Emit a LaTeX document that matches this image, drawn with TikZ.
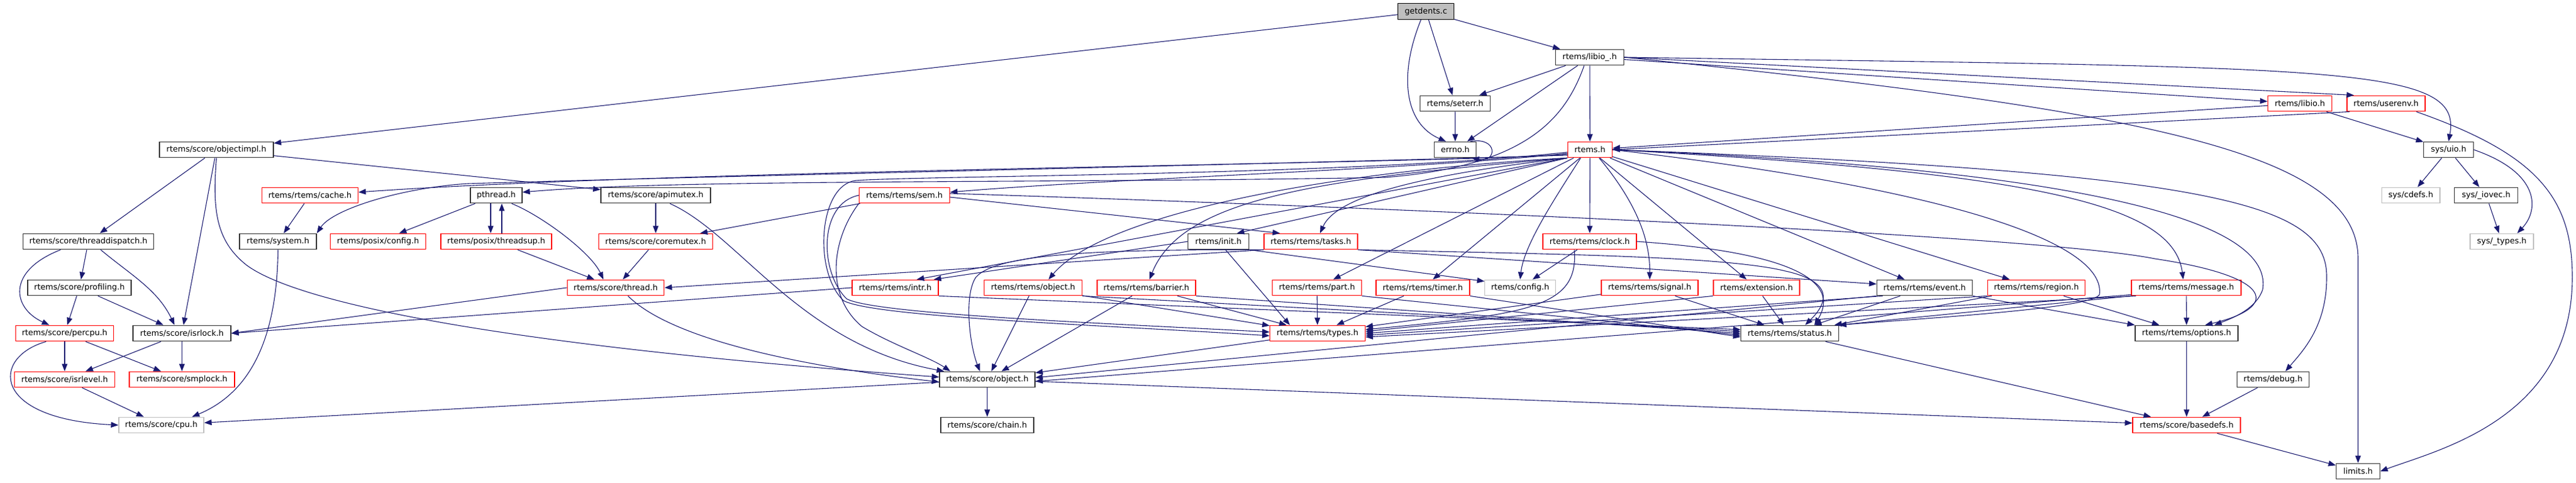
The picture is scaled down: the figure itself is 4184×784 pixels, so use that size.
\documentclass[tikz,border=0pt]{standalone}
\usepackage{fontspec}
\setmainfont{DejaVu Sans}
\usetikzlibrary{arrows.meta}
\definecolor{edgec}{HTML}{191970}
\definecolor{nodegray}{HTML}{BFBFBF}
\definecolor{nodered}{HTML}{FF0000}
\begin{document}
\begin{tikzpicture}[x=1pt,y=-1pt,
  nbox/.style={draw, line width=1.3pt, minimum height=25.5pt, inner sep=0pt, font=\fontsize{13}{15}\selectfont, text=black},
  nb/.style={nbox, draw=black!80},
  nr/.style={nbox, draw=nodered},
  ng/.style={nbox, draw=nodegray},
  conn/.style={draw=edgec, line width=1.1pt, -{Triangle[length=12pt,width=9pt]}}]
\useasboundingbox (0,0) rectangle (4184,784);
\fill[white] (0,0) rectangle (4184,784);

% ---------- nodes ----------
\node[nbox, draw=black, fill=nodegray, minimum width=91pt] (getdents) at (2316,18.5) {getdents.c};
\node[nb, minimum width=111pt] (libiou) at (2582,93) {rtems/libio\_.h};
\node[nb, minimum width=113.5pt] (seterr) at (2363.5,168) {rtems/seterr.h};
\node[nb, minimum width=68pt] (errno) at (2363.6,243) {errno.h};
\node[nr, minimum width=72pt] (rtems) at (2582.4,243) {rtems.h};
\node[nr, minimum width=104pt] (libio) at (3735.5,168) {rtems/libio.h};
\node[nr, minimum width=127pt] (userenv) at (3875.5,168) {rtems/userenv.h};
\node[nb, minimum width=80.5pt] (uio) at (3977,243) {sys/uio.h};
\node[ng, minimum width=94.6pt] (cdefs) at (3915.6,317) {sys/cdefs.h};
\node[nb, minimum width=103pt] (iovec) at (4038,317) {sys/\_iovec.h};
\node[ng, minimum width=103pt] (systypes) at (4063.5,392) {sys/\_types.h};

\node[nb, minimum width=185pt] (objectimpl) at (351.5,243) {rtems/score/objectimpl.h};
\node[nr, minimum width=156pt] (cache) at (503.5,317) {rtems/rtems/cache.h};
\node[nb, minimum width=84pt] (pthread) at (806,317) {pthread.h};
\node[nb, minimum width=178pt] (apimutex) at (1065,317) {rtems/score/apimutex.h};
\node[nr, minimum width=147pt] (sem) at (1469,317) {rtems/rtems/sem.h};

\node[nb, minimum width=212pt] (threaddispatch) at (143.5,392) {rtems/score/threaddispatch.h};
\node[nb, minimum width=125pt] (system) at (451.5,392) {rtems/system.h};
\node[nr, minimum width=155pt] (posixconfig) at (614,392) {rtems/posix/config.h};
\node[nr, minimum width=180pt] (threadsup) at (806,392) {rtems/posix/threadsup.h};
\node[nr, minimum width=185pt] (coremutex) at (1065,392) {rtems/score/coremutex.h};
\node[nb, minimum width=98.5pt] (init) at (1979,392) {rtems/init.h};
\node[nr, minimum width=152pt] (tasks) at (2129,392) {rtems/rtems/tasks.h};
\node[nr, minimum width=152pt] (clock) at (2582,392) {rtems/rtems/clock.h};

\node[nb, minimum width=168pt] (profiling) at (129,467) {rtems/score/profiling.h};
\node[nr, minimum width=157.5pt] (thread) at (1000,467) {rtems/score/thread.h};
\node[nr, minimum width=140pt] (intr) at (1454,467) {rtems/rtems/intr.h};
\node[nr, minimum width=158.5pt] (rtemsobject) at (1678,467) {rtems/rtems/object.h};
\node[nr, minimum width=160pt] (barrier) at (1862,467) {rtems/rtems/barrier.h};
\node[nr, minimum width=145pt] (part) at (2139,467) {rtems/rtems/part.h};
\node[nr, minimum width=152pt] (timer) at (2311,467) {rtems/rtems/timer.h};
\node[ng, minimum width=114.5pt] (config) at (2469,467) {rtems/config.h};
\node[nr, minimum width=157pt] (signal) at (2679.5,467) {rtems/rtems/signal.h};
\node[nr, minimum width=140pt] (extension) at (2853,467) {rtems/extension.h};
\node[nb, minimum width=155pt] (event) at (3126,467) {rtems/rtems/event.h};
\node[nr, minimum width=158pt] (region) at (3307.5,467) {rtems/rtems/region.h};
\node[nr, minimum width=178pt] (message) at (3551,467) {rtems/rtems/message.h};

\node[nr, minimum width=158.5pt] (percpu) at (105,541) {rtems/score/percpu.h};
\node[nb, minimum width=159pt] (isrlock) at (295.5,541) {rtems/score/isrlock.h};
\node[nr, minimum width=154.5pt] (types) at (2140,541) {rtems/rtems/types.h};
\node[nb, minimum width=158.5pt] (status) at (2907,541) {rtems/rtems/status.h};
\node[nb, minimum width=167pt] (options) at (3551.5,541) {rtems/rtems/options.h};

\node[nr, minimum width=163pt] (isrlevel) at (105,616) {rtems/score/isrlevel.h};
\node[nr, minimum width=171pt] (smplock) at (295.5,616) {rtems/score/smplock.h};
\node[nb, minimum width=155pt] (scoreobject) at (1603.5,616) {rtems/score/object.h};
\node[nb, minimum width=116.5pt] (debug) at (3692,616) {rtems/debug.h};

\node[ng, minimum width=138pt] (cpu) at (262,690) {rtems/score/cpu.h};
\node[nb, minimum width=151pt] (chain) at (1603.5,690) {rtems/score/chain.h};
\node[nr, minimum width=175pt] (basedefs) at (3551.5,690) {rtems/score/basedefs.h};
\node[nb, minimum width=71pt] (limits) at (3830,765) {limits.h};

% ---------- edges: top ----------
\draw[conn] (getdents) -- (objectimpl);
\draw[conn] ([xshift=-8pt]getdents.south) .. controls (2272,120) and (2280,200) .. ([xshift=-15pt]errno.north);
\draw[conn] (getdents) -- (seterr);
\draw[conn] (getdents) -- (libiou);
\draw[conn] (libiou) -- (seterr);
\draw[conn] (libiou) -- (errno);
\draw[conn] (libiou) -- (rtems);
\draw[conn] ([xshift=-9pt]libiou.south) .. controls (2540,200) and (2470,270) .. (2250,288) .. controls (1700,298) and (1100,290) .. ([yshift=5pt]pthread.east);
\draw[conn] (seterr) -- (errno);
\draw[conn] ([xshift=-10pt]errno.north east) .. controls +(45pt,8pt) and +(42pt,-8pt) .. ([xshift=-8pt]errno.south east);
\draw[conn] (libiou) -- (libio);
\draw[conn] (libiou.east) -- ([xshift=12pt]userenv.north west);
\draw[conn] (libiou.east) .. controls (3800,110) and (4000,105) .. (uio.north);
\draw[conn] (libiou.east) .. controls (3500,180) and (3830,250) .. (3830,420) -- (limits.north);
\draw[conn] (libio) -- (rtems);
\draw[conn] ([xshift=5pt]userenv.south west) -- (rtems.east);
\draw[conn] (libio) -- (uio);
\draw[conn] ([xshift=-15pt]userenv.south east) .. controls (4120,250) and (4178,320) .. (4178,450) .. controls (4178,680) and (3960,730) .. (limits.east);
\draw[conn] (uio) -- (cdefs);
\draw[conn] (uio) -- (iovec);
\draw[conn] (uio.east) .. controls (4125,280) and (4125,340) .. ([xshift=25pt]systypes.north);
\draw[conn] (iovec) -- (systypes);

% ---------- objectimpl cluster ----------
\draw[conn] (objectimpl) -- (threaddispatch);
\draw[conn] (objectimpl) -- (isrlock);
\draw[conn] (objectimpl.south) .. controls (345,340) and (350,390) .. (400,430) .. controls (480,490) and (800,560) .. ([yshift=4pt]scoreobject.west);
\draw[conn] (objectimpl) -- (apimutex);
\draw[conn] ([xshift=-45pt]threaddispatch.south) .. controls (10,440) and (20,500) .. ([xshift=-25pt]percpu.north);
\draw[conn] (threaddispatch) -- (profiling);
\draw[conn] ([xshift=20pt]threaddispatch.south) .. controls (212,446) and (256,470) .. ([xshift=-12pt]isrlock.north);
\draw[conn] (profiling) -- (percpu);
\draw[conn] (profiling) -- (isrlock);
\draw[conn] (percpu) -- (isrlevel);
\draw[conn] (percpu) -- (smplock);
\draw[conn] ([xshift=-30pt]percpu.south) .. controls (-15,580) and (-15,680) .. (cpu.west);
\draw[conn] (isrlock) -- (isrlevel);
\draw[conn] (isrlock) -- (smplock);
\draw[conn] (isrlevel) -- (cpu);
\draw[conn] (system.south) .. controls (450,560) and (400,640) .. ([xshift=50pt]cpu.north);
\draw[conn] (cache) -- (system);

% ---------- middle cluster ----------
\draw[conn] (pthread) -- (posixconfig);
\draw[conn] ([xshift=-9pt]pthread.south) -- ([xshift=-9pt]threadsup.north);
\draw[conn] ([xshift=9pt]threadsup.north) -- ([xshift=9pt]pthread.south);
\draw[conn] ([xshift=25pt]pthread.south) .. controls (880,350) and (960,410) .. ([xshift=-20pt]thread.north);
\draw[conn] (threadsup) -- (thread);
\draw[conn] (apimutex) -- (coremutex);
\draw[conn] ([xshift=23pt]apimutex.south) .. controls (1200,380) and (1300,560) .. ([xshift=-70pt]scoreobject.north);
\draw[conn] (coremutex) -- (thread);
\draw[conn] (thread.west) -- (isrlock.east);
\draw[conn] ([xshift=20pt]thread.south) .. controls (1100,560) and (1350,600) .. ([yshift=-4pt]scoreobject.west);

% ---------- rtems.h to the left ----------
\draw[conn] ([yshift=-7pt]rtems.west) .. controls (2400,265) and (1100,275) .. ([yshift=5pt]cache.east);
\draw[conn] ([yshift=-9pt]rtems.west) .. controls (2000,268) and (1200,285) .. (760,298) .. controls (650,305) and (540,340) .. (system.north east);
\draw[conn] ([yshift=-6pt]rtems.west) .. controls (2300,275) and (1800,290) .. ([yshift=5pt]sem.east);
\draw[conn] (rtems.south west) -- ([xshift=30pt]init.north);
\draw[conn] (rtems.south west) .. controls (2300,285) and (2170,320) .. ([xshift=15pt]tasks.north);
\draw[conn] (rtems.south west) -- ([xshift=35pt]intr.north);
\draw[conn] (rtems.south west) .. controls (2200,275) and (1800,340) .. ([xshift=25pt]rtemsobject.north);
\draw[conn] (rtems.south west) .. controls (2150,290) and (1920,320) .. ([xshift=5pt]barrier.north);
\draw[conn] ([yshift=-4pt]rtems.west) .. controls (2200,285) and (1500,285) .. (1390,293) .. controls (1330,300) and (1320,440) .. (1370,488) .. controls (1420,515) and (1800,528) .. ([yshift=-4pt]types.west);

% ---------- sem.h ----------
\draw[conn] (sem.west) .. controls (1330,330) and (1330,440) .. (1375,485) .. controls (1420,510) and (1800,525) .. ([yshift=2pt]types.west);
\draw[conn] (sem.south west) .. controls (1350,390) and (1340,480) .. (1400,530) .. controls (1450,560) and (1510,580) .. ([xshift=-60pt]scoreobject.north);
\draw[conn] (sem) -- (coremutex);
\draw[conn] ([yshift=-3pt]sem.east) -- ([xshift=-50pt]tasks.north);
\draw[conn] ([yshift=3pt]sem.east) .. controls (2200,335) and (3300,380) .. (3500,420) .. controls (3700,450) and (3700,500) .. ([xshift=30pt]options.north);

% ---------- tasks.h, init.h ----------
\draw[conn] (tasks.south west) -- (thread.east);
\draw[conn] (tasks.south west) .. controls (1800,405) and (1620,410) .. (1585,450) .. controls (1565,480) and (1575,560) .. ([xshift=-12pt]scoreobject.north);
\draw[conn] (tasks.south east) .. controls (2500,412) and (2800,415) .. (2900,440) .. controls (2990,460) and (2960,500) .. ([xshift=25pt]status.north);
\draw[conn] (tasks.south east) -- ([yshift=6pt]event.west);
\draw[conn] (init.west) -- ([xshift=-8pt]intr.north east);
\draw[conn] (init) -- ([xshift=-45pt]types.north);
\draw[conn] (init.south east) -- ([yshift=-3pt]config.north west);

% ---------- rtems.h to the right ----------
\draw[conn] (rtems) -- (part);
\draw[conn] (rtems) -- (timer);
\draw[conn] ([xshift=-15pt]rtems.south) .. controls (2520,330) and (2475,400) .. (config.north);
\draw[conn] (rtems) -- (clock);
\draw[conn] ([xshift=15pt]rtems.south) .. controls (2650,320) and (2680,380) .. (signal.north);
\draw[conn] (rtems) -- (extension);
\draw[conn] (rtems) -- (event);
\draw[conn] (rtems) -- (region);
\draw[conn] (rtems.east) .. controls (3300,280) and (3530,330) .. ([xshift=-5pt]message.north);
\draw[conn] (rtems.east) .. controls (3500,280) and (3690,380) .. (3675,470) .. controls (3665,500) and (3630,515) .. ([xshift=45pt]options.north);
\draw[conn] (rtems.east) .. controls (3600,280) and (3780,330) .. (3779,450) .. controls (3779,530) and (3740,570) .. ([xshift=20pt]debug.north);
\draw[conn] (rtems.east) .. controls (3200,310) and (3420,400) .. (3410,478) .. controls (3400,500) and (3150,515) .. (status.north east);

% ---------- row of rtems/rtems headers ----------
\draw[conn] (intr.west) -- (isrlock.east);
\draw[conn] (intr.south east) -- ([yshift=6pt]status.west);
\draw[conn] (rtemsobject) -- (scoreobject);
\draw[conn] (rtemsobject) -- (types);
\draw[conn] (rtemsobject.south east) -- ([yshift=3pt]status.west);
\draw[conn] (barrier) -- (scoreobject);
\draw[conn] (barrier) -- (types);
\draw[conn] (barrier.south east) -- (status.west);
\draw[conn] (part) -- (types);
\draw[conn] (part.south east) -- ([yshift=-3pt]status.west);
\draw[conn] (timer) -- (types);
\draw[conn] (timer.south east) -- ([yshift=-6pt]status.west);
\draw[conn] (clock) -- (config);
\draw[conn] ([xshift=-25pt]clock.south) .. controls (2565,500) and (2480,510) .. ([yshift=6pt]types.east);
\draw[conn] (clock.east) .. controls (2850,405) and (3000,440) .. ([xshift=40pt]status.north);
\draw[conn] (signal) -- (types);
\draw[conn] (signal) -- (status);
\draw[conn] (extension.south west) -- ([yshift=3pt]types.east);
\draw[conn] (extension) -- (status);
\draw[conn] ([xshift=10pt]event.south west) -- (types.east);
\draw[conn] (event.south west) -- ([yshift=3pt]scoreobject.east);
\draw[conn] (event) -- (status);
\draw[conn] (event.south east) -- (options.north west);
\draw[conn] (region.south west) -- ([yshift=-3pt]types.east);
\draw[conn] (region) -- (status);
\draw[conn] (region) -- (options);
\draw[conn] (message) -- (options);
\draw[conn] (message.south west) -- (status.north east);
\draw[conn] ([xshift=8pt]message.south west) -- ([yshift=-6pt]types.east);
\draw[conn] ([yshift=2pt]message.south west) -- ([yshift=-3pt]scoreobject.east);

% ---------- bottom ----------
\draw[conn] (types) -- (scoreobject);
\draw[conn] (scoreobject) -- (cpu);
\draw[conn] (scoreobject) -- (chain);
\draw[conn] (scoreobject) -- (basedefs);
\draw[conn] (status) -- (basedefs);
\draw[conn] (options) -- (basedefs);
\draw[conn] (debug) -- (basedefs);
\draw[conn] (basedefs) -- (limits);
\end{tikzpicture}
\end{document}
